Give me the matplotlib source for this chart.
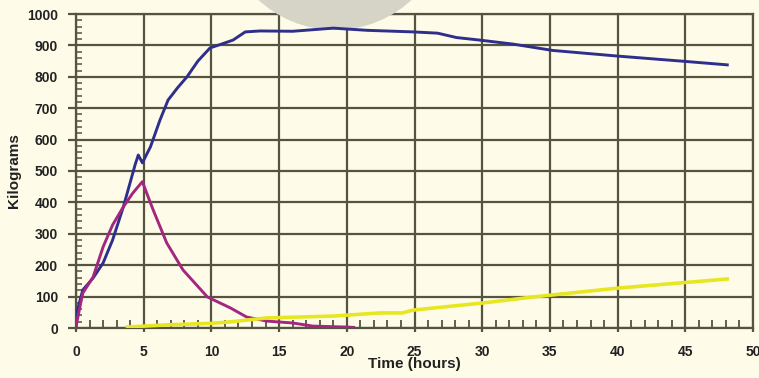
import matplotlib
matplotlib.use("Agg")
import matplotlib.pyplot as plt
from matplotlib.patches import Ellipse
from matplotlib.ticker import MultipleLocator

# Data
blue_x = [0, 0.05, 0.5, 1.26, 2.0, 2.7, 3.5, 4.36, 4.6, 4.9, 5.5, 6.2, 6.8, 7.5, 8.2, 9.0, 9.9, 10.8, 11.6,
          12.5, 13.6, 16, 19, 21.5, 24.9, 26.7, 28.1, 29.8, 32.3, 35.2, 40, 45, 48.1]
blue_y = [0, 48, 121, 159, 207, 280, 386, 519, 551, 526, 577, 662, 726, 765, 800, 850, 892, 905, 917,
          943, 946, 945, 955, 948, 943, 939, 925, 917, 904, 884, 866, 849, 838]

mag_x = [0, 0.05, 0.5, 1.26, 2.0, 2.7, 3.5, 4.2, 4.9, 5.7, 6.7, 7.9, 9.7, 11.4, 12.6, 14.1, 16, 17.5, 20, 20.5]
mag_y = [3, 16, 111, 162, 258, 328, 386, 430, 466, 376, 271, 185, 99, 64, 35, 22, 16, 6, 3, 2]

yel_x = [3.8, 6.7, 10.1, 11.5, 14.1, 19, 22.45, 24.1, 24.9, 30.1, 33.8, 40, 48.1]
yel_y = [3, 10, 15, 20, 32, 38, 48, 48, 57, 80, 99, 127, 156]

x_ticks = [0, 5, 10, 15, 20, 25, 30, 35, 40, 45, 50]
y_ticks = [0, 100, 200, 300, 400, 500, 600, 700, 800, 900, 1000]

bg = "#FEFCE8"
gridc = "#55543F"
textc = "#222222"
font = "Liberation Sans"

fig = plt.figure(figsize=(7.59, 3.78), dpi=100, facecolor=bg)
ax = fig.add_axes([76/759, 1-328/378, (753-76)/759, (328-14)/378])
ax.set_facecolor(bg)

ax.plot(blue_x, blue_y, color="#2E2F8C", lw=2.1, zorder=4)
ax.plot(mag_x, mag_y, color="#A3267F", lw=2.1, zorder=4)
ax.plot(yel_x, yel_y, color="#E8E620", lw=2.6, zorder=4)

ax.set_xlim(0, 50)
ax.set_ylim(0, 1000)
ax.set_xticks(x_ticks)
ax.set_yticks(y_ticks)
ax.xaxis.set_minor_locator(MultipleLocator(1))
ax.yaxis.set_minor_locator(MultipleLocator(20))
ax.set_axisbelow(True)
ax.grid(True, which="major", color=gridc, lw=1.6)
for s in ax.spines.values():
    s.set_color(gridc)
    s.set_linewidth(1.6)

ax.tick_params(axis="x", which="major", length=3, width=1.6, color=gridc, pad=9)
ax.tick_params(axis="y", which="major", length=6, width=1.6, color=gridc, pad=7)
ax.tick_params(axis="x", which="minor", direction="in", length=6, width=1.3, color=gridc)
ax.tick_params(axis="y", which="minor", direction="in", length=4, width=1.1, color=gridc)

for lab in ax.get_xticklabels() + ax.get_yticklabels():
    lab.set_fontweight("bold")
    lab.set_fontsize(10)
    lab.set_color(textc)
    lab.set_family(font)

ax.set_xlabel("Time (hours)", fontsize=11, fontweight="bold", color=textc, family=font, labelpad=-1)
ax.set_ylabel("Kilograms", fontsize=11, fontweight="bold", color=textc, family=font, labelpad=4)

circ = Ellipse((335/759, 1+82.5/378), 225/759, 225/378, transform=fig.transFigure,
               facecolor="#D6D4C6", edgecolor="none", zorder=3, clip_on=False)
ax.add_artist(circ)

fig.savefig("out.png", dpi=100, facecolor=bg)
